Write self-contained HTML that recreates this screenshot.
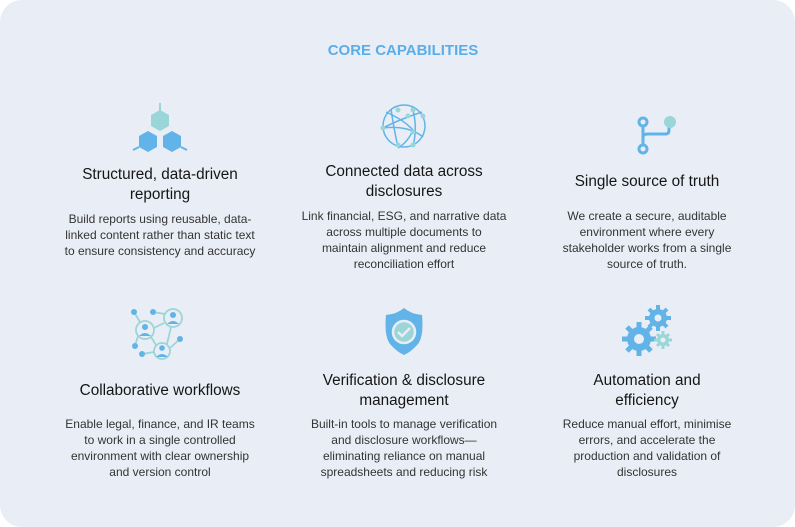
<!DOCTYPE html>
<html><head><style>
body{margin:0;width:795px;height:527px;background:#fff;position:relative;overflow:hidden;font-family:"Liberation Sans",sans-serif}
.bg{position:absolute;left:0;top:0;width:795px;height:527px;background:#e9eef6;border-radius:22px}
.t{position:absolute;width:260px;text-align:center;color:#151515;font-size:15.3px;line-height:20px}
.b{position:absolute;width:260px;text-align:center;color:#333;font-size:12px;line-height:16px}
h1{position:absolute;top:42px;left:0;width:806px;margin:0;text-align:center;color:#5aaee8;font-size:15px;font-weight:bold}
svg{position:absolute}
</style></head><body>
<div class="bg"></div>
<h1>CORE CAPABILITIES</h1>

<svg style="left:130px;top:100px" width="60" height="60" viewBox="0 0 60 60">
<line x1="30" y1="3" x2="30" y2="12" stroke="#9ad5d8" stroke-width="2"/>
<polygon points="30,10 39,15 39,26 30,31 21,26 21,15" fill="#9ad5d8"/>
<polygon points="18,31 27,36 27,47 18,52 9,47 9,36" fill="#62b3e8"/>
<polygon points="42,31 51,36 51,47 42,52 33,47 33,36" fill="#62b3e8"/>
<line x1="9" y1="47" x2="3" y2="50" stroke="#62b3e8" stroke-width="2"/>
<line x1="51" y1="47" x2="57" y2="50" stroke="#62b3e8" stroke-width="2"/>
</svg>

<svg style="left:378px;top:100px" width="52" height="52" viewBox="0 0 52 52">
<g fill="none" stroke="#62b3e8" stroke-width="1.5">
<ellipse cx="26" cy="26" rx="21" ry="21"/>
<path d="M8 12 Q26 20 35 30 Q30 42 20 48"/><path d="M5 28 Q20 20 44 12"/><path d="M13 9 Q16 30 20 47"/><path d="M5 28 Q30 25 45 37"/><path d="M34 7 Q40 25 35 47"/>
</g>
<g fill="#9ad5d8"><circle cx="20" cy="10" r="2.5"/><circle cx="35" cy="10" r="2.5"/><circle cx="45" cy="16" r="2.5"/><circle cx="5" cy="28" r="2.5"/><circle cx="30" cy="16" r="2.5"/><circle cx="35" cy="32" r="2.5"/><circle cx="20" cy="45" r="2.5"/><circle cx="35" cy="45" r="2.5"/></g>
</svg>

<svg style="left:632px;top:110px" width="48" height="48" viewBox="0 0 48 48">
<g fill="none" stroke="#62b3e8" stroke-width="3"><circle cx="11" cy="12" r="4"/><circle cx="11" cy="39" r="4"/><line x1="11" y1="16" x2="11" y2="35"/><path d="M11 27 Q11 24 16 24 H34 Q37 24 37 20 V16"/></g>
<circle cx="38" cy="12" r="6" fill="#9ad5d8"/>
</svg>

<svg style="left:130px;top:306px" width="60" height="56" viewBox="0 0 60 56">
<g stroke="#9ad5d8" stroke-width="1.8" fill="none"><circle cx="43" cy="12" r="9"/><circle cx="15" cy="24" r="9"/><circle cx="32" cy="45" r="8"/>
<line x1="4" y1="6" x2="10" y2="16"/><line x1="23" y1="6" x2="35" y2="8"/><line x1="24" y1="22" x2="34" y2="17"/><line x1="41" y1="21" x2="37" y2="38"/><line x1="21" y1="31" x2="26" y2="39"/><line x1="40" y1="42" x2="50" y2="33"/><line x1="5" y1="40" x2="8" y2="30"/><line x1="12" y1="48" x2="24" y2="46"/></g>
<g fill="#62b3e8"><circle cx="4" cy="6" r="3"/><circle cx="23" cy="6" r="3"/><circle cx="50" cy="33" r="3"/><circle cx="5" cy="40" r="3"/><circle cx="12" cy="48" r="3"/>
<circle cx="43" cy="9" r="3"/><path d="M37 18 Q43 12 49 18Z"/><circle cx="15" cy="21" r="3"/><path d="M9 30 Q15 24 21 30Z"/><circle cx="32" cy="42" r="2.8"/><path d="M26 51 Q32 45 38 51Z"/></g>
</svg>

<svg style="left:382px;top:306px" width="44" height="50" viewBox="0 0 44 50">
<path d="M22 2 Q15 8 4 9 Q2 30 8 38 Q15 46 22 49 Q29 46 36 38 Q42 30 40 9 Q29 8 22 2Z" fill="#62b3e8"/>
<circle cx="22" cy="26" r="11" fill="#9ad5d8" stroke="#e9eef6" stroke-width="2.5"/>
<path d="M16 26 L20 30 L28 22" stroke="#e9eef6" stroke-width="2.5" fill="none"/>
</svg>

<svg style="left:620px;top:303px" width="56" height="54" viewBox="0 0 56 54">
<g fill="#62b3e8"><circle cx="38" cy="15" r="9"/><g stroke="#62b3e8" stroke-width="4"><line x1="38" y1="2" x2="38" y2="28"/><line x1="25" y1="15" x2="51" y2="15"/><line x1="29" y1="6" x2="47" y2="24"/><line x1="47" y1="6" x2="29" y2="24"/></g>
<circle cx="19" cy="36" r="12"/><g stroke="#62b3e8" stroke-width="5"><line x1="19" y1="19" x2="19" y2="53"/><line x1="2" y1="36" x2="36" y2="36"/><line x1="7" y1="24" x2="31" y2="48"/><line x1="31" y1="24" x2="7" y2="48"/></g></g>
<circle cx="38" cy="15" r="3.5" fill="#e9eef6"/><circle cx="19" cy="36" r="5" fill="#e9eef6"/>
<g fill="#9ad5d8"><circle cx="43" cy="37" r="6"/><g stroke="#9ad5d8" stroke-width="3"><line x1="43" y1="28" x2="43" y2="46"/><line x1="34" y1="37" x2="52" y2="37"/><line x1="37" y1="31" x2="49" y2="43"/><line x1="49" y1="31" x2="37" y2="43"/></g></g>
<circle cx="43" cy="37" r="2.5" fill="#e9eef6"/>
</svg>

<div class="t" style="left:30px;top:165px">Structured, data-driven<br>reporting</div>
<div class="b" style="left:30px;top:211px">Build reports using reusable, data-<br>linked content rather than static text<br>to ensure consistency and accuracy</div>

<div class="t" style="left:274px;top:162px">Connected data across<br>disclosures</div>
<div class="b" style="left:274px;top:208px">Link financial, ESG, and narrative data<br>across multiple documents to<br>maintain alignment and reduce<br>reconciliation effort</div>

<div class="t" style="left:517px;top:172px">Single source of truth</div>
<div class="b" style="left:517px;top:208px">We create a secure, auditable<br>environment where every<br>stakeholder works from a single<br>source of truth.</div>

<div class="t" style="left:30px;top:381px">Collaborative workflows</div>
<div class="b" style="left:30px;top:416px">Enable legal, finance, and IR teams<br>to work in a single controlled<br>environment with clear ownership<br>and version control</div>

<div class="t" style="left:274px;top:371px">Verification &amp; disclosure<br>management</div>
<div class="b" style="left:274px;top:416px">Built-in tools to manage verification<br>and disclosure workflows—<br>eliminating reliance on manual<br>spreadsheets and reducing risk</div>

<div class="t" style="left:517px;top:371px">Automation and<br>efficiency</div>
<div class="b" style="left:517px;top:416px">Reduce manual effort, minimise<br>errors, and accelerate the<br>production and validation of<br>disclosures</div>
</body></html>
